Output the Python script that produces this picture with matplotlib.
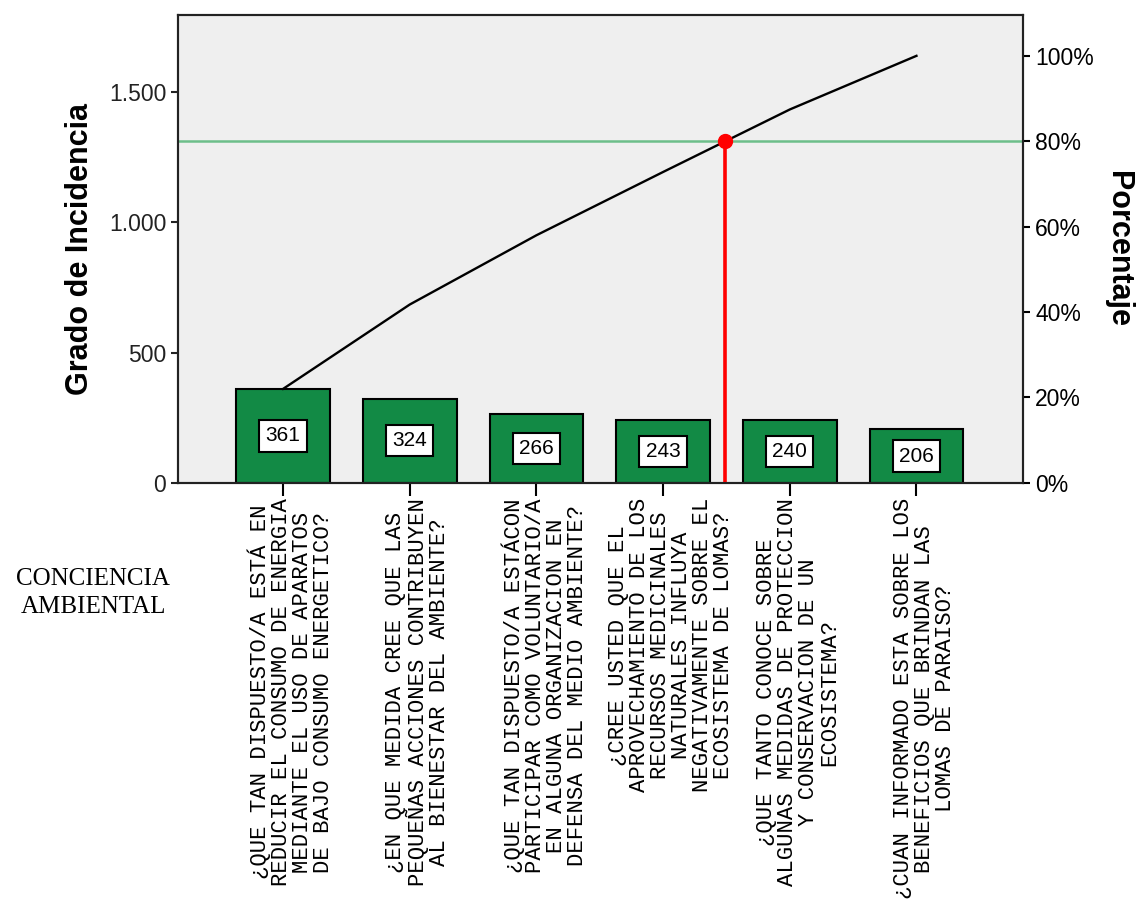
import matplotlib
matplotlib.use('Agg')
import matplotlib.pyplot as plt
import matplotlib.transforms as mtransforms
from matplotlib.ticker import FuncFormatter
import numpy as np

categories = [
    "¿QUE TAN DISPUESTO/A ESTÁ EN\nREDUCIR EL CONSUMO DE ENERGIA\nMEDIANTE EL USO DE APARATOS\nDE BAJO CONSUMO ENERGETICO?",
    "¿EN QUE MEDIDA CREE QUE LAS\nPEQUEÑAS ACCIONES CONTRIBUYEN\nAL BIENESTAR DEL AMBIENTE?",
    "¿QUE TAN DISPUESTO/A ESTÁCON\nPARTICIPAR COMO VOLUNTARIO/A\nEN ALGUNA ORGANIZACION EN\nDEFENSA DEL MEDIO AMBIENTE?",
    "¿CREE USTED QUE EL\nAPROVECHAMIENTO DE LOS\nRECURSOS MEDICINALES\nNATURALES INFLUYA\nNEGATIVAMENTE SOBRE EL\nECOSISTEMA DE LOMAS?",
    "¿QUE TANTO CONOCE SOBRE\nALGUNAS MEDIDAS DE PROTECCION\nY CONSERVACION DE UN\nECOSISTEMA?",
    "¿CUAN INFORMADO ESTA SOBRE LOS\nBENEFICIOS QUE BRINDAN LAS\nLOMAS DE PARAISO?",
]
values = [361, 324, 266, 243, 240, 206]
threshold_pct = 80

x = np.arange(len(values))
total = sum(values)
cum = np.cumsum(values)
ymax = 1797

fig = plt.figure(figsize=(11.48, 9.06), dpi=100)
ax = fig.add_axes([0.155, 0.467, 0.736, 0.5165])
ax.set_facecolor('#efefef')

ax.bar(x, values, width=0.74, color='#128a45', edgecolor='black', linewidth=1.5, zorder=2)
for xi, v in zip(x, values):
    ax.text(xi, v / 2, str(v), ha='center', va='center', fontsize=15,
            family='Liberation Sans', zorder=4,
            bbox=dict(boxstyle='square,pad=0.3', facecolor='white', edgecolor='black', linewidth=1.5))

ax.plot(x, cum, color='black', linewidth=1.7, zorder=3)

# 80% line and cut point
cut_val = total * threshold_pct / 100
cut_x = np.interp(cut_val, cum, x)
ax.axhline(cut_val, color='#6dbe8a', linewidth=1.8, zorder=1)
ax.plot([cut_x, cut_x], [0, cut_val], color='red', linewidth=2.6, zorder=5)
ax.plot(cut_x, cut_val, 'o', color='red', markersize=10, zorder=6)

ax.set_xlim(-0.83, 5.84)
ax.set_ylim(0, ymax)
ax.set_yticks([0, 500, 1000, 1500])
ax.yaxis.set_major_formatter(FuncFormatter(lambda v, p: '{:,.0f}'.format(v).replace(',', '.')))
ax.set_xticks(x)
ax.set_xticklabels(categories, rotation=90, ha='center', va='top', multialignment='center',
                   family='Liberation Mono', fontsize=16, linespacing=1.0)
ax.tick_params(axis='x', length=9, width=1.5, pad=2)
ax.tick_params(axis='y', length=5, width=1.5, labelsize=16.5, colors='#222222')
# labels sit a bit to the right of their ticks
shift = mtransforms.ScaledTranslation(0.08, 0, fig.dpi_scale_trans)
for lab in ax.get_xticklabels():
    lab.set_transform(lab.get_transform() + shift)
for lab in ax.get_yticklabels():
    lab.set_family('Liberation Sans')
ax.set_ylabel('Grado de Incidencia', family='Liberation Sans', fontsize=22, fontweight='bold', labelpad=10)

ax2 = ax.twinx()
ax2.set_ylim(0, ymax / total * 100)
ax2.set_yticks([0, 20, 40, 60, 80, 100])
ax2.set_yticklabels([f'{t}%' for t in [0, 20, 40, 60, 80, 100]], family='Liberation Sans')
ax2.tick_params(axis='y', length=5, width=1.5, labelsize=16.5, pad=4)
ax2.set_ylabel('Porcentaje', family='Liberation Sans', fontsize=22, fontweight='bold',
               rotation=270, labelpad=28)

for a in (ax, ax2):
    for s in a.spines.values():
        s.set_linewidth(1.5)
        s.set_color('#222222')

fig.text(93 / 1148, 1 - 593 / 906, 'CONCIENCIA\nAMBIENTAL', ha='center', va='center',
         family='Liberation Serif', fontsize=18, linespacing=1.3)

fig.savefig('out.png', dpi=100)
